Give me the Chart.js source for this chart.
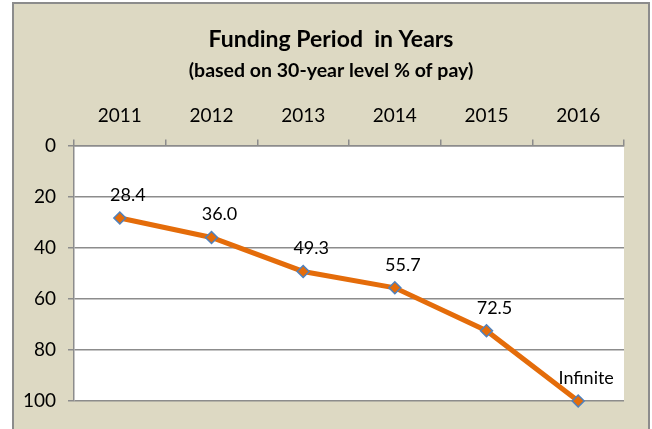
<!DOCTYPE html>
<html>
<head>
<meta charset="utf-8">
<script src="https://cdn.jsdelivr.net/npm/chart.js@4.4.1/dist/chart.umd.min.js"></script>
<style>
  html, body { margin: 0; padding: 0; background: #fff; }
  #wrap { width: 652px; height: 429px; }
</style>
</head>
<body>
<div id="wrap"><canvas id="fundingChart" width="652" height="429"></canvas></div>
<script>
// data
var years = ['2011', '2012', '2013', '2014', '2015', '2016'];
var fundingYears = [28.4, 36.0, 49.3, 55.7, 72.5, 100];   // 2016 = infinite, drawn at the bottom
var pointLabels = ['28.4', '36.0', '49.3', '55.7', '72.5', 'Infinite'];
var yTicks = [0, 20, 40, 60, 80, 100];

var FONT = 'Lato, "Open Sans", sans-serif';

// beige panel + white plot area
var panelPlugin = {
    id: 'panel',
    beforeDraw: function (chart) {
        var c = chart.ctx, a = chart.chartArea;
        c.save();
        c.fillStyle = '#ffffff';
        c.fillRect(0, 0, chart.width, chart.height);
        c.fillStyle = '#ddd9c3';
        c.fillRect(13, 3, 636, chart.height);
        c.strokeStyle = '#8c8c8c';
        c.lineWidth = 2;
        c.strokeRect(13, 3, 636, chart.height + 5);
        c.fillStyle = '#ffffff';
        c.fillRect(a.left, a.top, a.right - a.left, a.bottom - a.top);
        c.restore();
    }
};

// value labels above each point
var labelPlugin = {
    id: 'pointText',
    afterDatasetsDraw: function (chart) {
        var c = chart.ctx;
        var meta = chart.getDatasetMeta(0);
        c.save();
        c.font = '18px ' + FONT;
        c.fillStyle = '#000';
        c.textAlign = 'center';
        c.textBaseline = 'middle';
        meta.data.forEach(function (pt, i) {
            c.fillText(pointLabels[i], pt.x + 8, pt.y - 23);
        });
        c.restore();
    }
};

var ctx = document.getElementById('fundingChart').getContext('2d');
var fundingChart = new Chart(ctx, {
    type: 'line',
    data: {
        labels: years,
        datasets: [{
            label: 'Funding Period',
            data: fundingYears,
            borderColor: '#e46c0a',
            borderWidth: 5,
            backgroundColor: '#e46c0a',
            pointStyle: 'rectRot',
            pointRadius: 6,
            pointBorderColor: '#4f81bd',
            pointBorderWidth: 1.5,
            pointBackgroundColor: '#e46c0a',
            tension: 0,
            clip: false
        }]
    },
    options: {
        responsive: false,
        animation: false,
        layout: { padding: { left: 10, right: 0, top: 0, bottom: 28 } },
        plugins: {
            legend: { display: false },
            tooltip: { enabled: false },
            title: {
                display: true,
                text: 'Funding Period  in Years',
                color: '#000',
                font: { family: FONT, size: 23, weight: 'bold' },
                padding: { top: 26, bottom: 5.7 }
            },
            subtitle: {
                display: true,
                text: '(based on 30-year level % of pay)',
                color: '#000',
                font: { family: FONT, size: 19.5, weight: 'bold' },
                padding: { top: 0, bottom: 0 }
            }
        },
        scales: {
            x: {
                position: 'top',
                offset: true,
                grid: {
                    offset: true,
                    drawOnChartArea: false,
                    drawTicks: true,
                    tickLength: 6,
                    color: '#8c8c8c',
                    lineWidth: 1.5
                },
                border: { color: '#8c8c8c', width: 1.5 },
                ticks: {
                    color: '#000',
                    font: { family: FONT, size: 19 },
                    padding: 12,
                    maxRotation: 0
                },
                afterFit: function (scale) { scale.height = 62.8; }
            },
            y: {
                reverse: true,
                min: 0,
                max: 100,
                afterBuildTicks: function (scale) {
                    scale.ticks = yTicks.map(function (v) { return { value: v }; });
                },
                grid: {
                    color: '#8c8c8c',
                    lineWidth: 1.5,
                    tickLength: 6
                },
                border: { color: '#8c8c8c', width: 1.5 },
                ticks: {
                    color: '#000',
                    font: { family: FONT, size: 19 },
                    padding: 12
                },
                afterFit: function (scale) { scale.width = 64; }
            },
            // empty right-hand axis, only reserves the margin beside the plot
            yRight: {
                position: 'right',
                min: 0,
                max: 100,
                grid: { display: false },
                border: { display: false },
                ticks: { display: false },
                afterFit: function (scale) { scale.width = 28; }
            }
        }
    },
    plugins: [panelPlugin, labelPlugin]
});
</script>
</body>
</html>
